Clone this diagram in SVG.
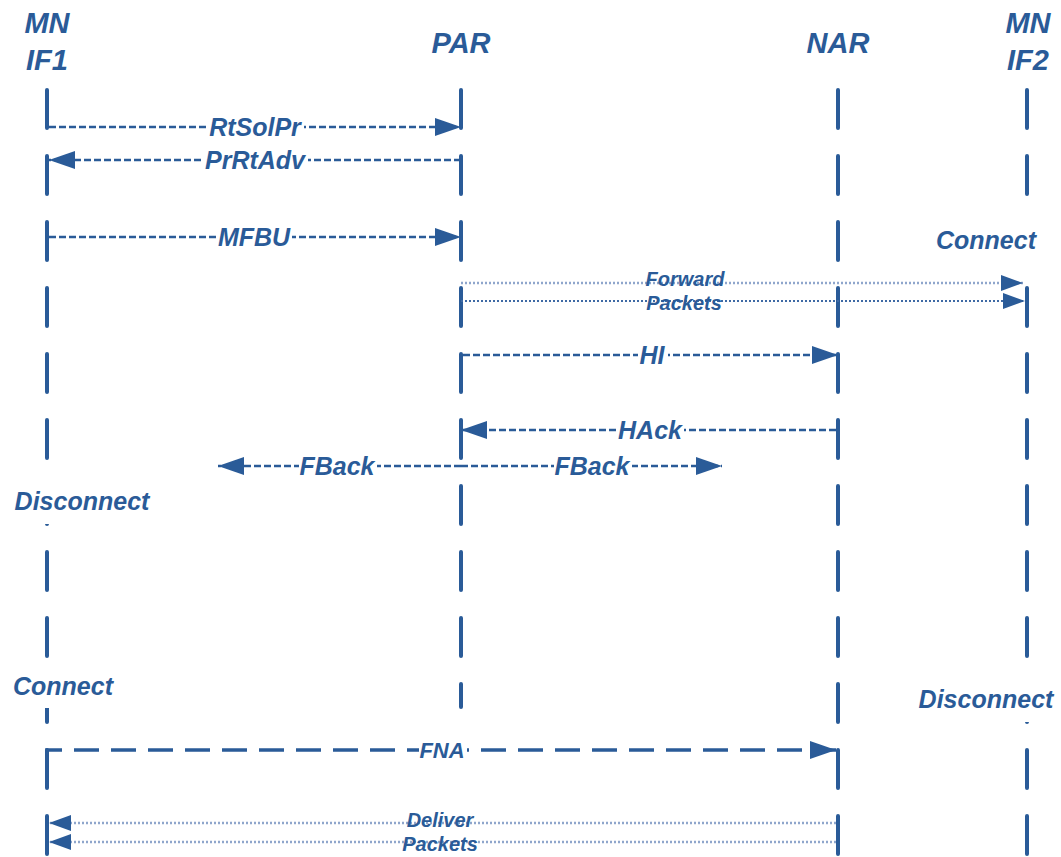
<svg xmlns="http://www.w3.org/2000/svg" width="1061" height="857" viewBox="0 0 1061 857">
<style>
.hdr{font-family:"Liberation Sans",Arial,sans-serif;font-weight:bold;font-style:italic;font-size:29px;fill:#2A5B98;text-anchor:middle}
.lbl{font-family:"Liberation Sans",Arial,sans-serif;font-weight:bold;font-style:italic;font-size:25px;fill:#2A5B98;text-anchor:middle}
.sml{font-family:"Liberation Sans",Arial,sans-serif;font-weight:bold;font-style:italic;font-size:20px;fill:#2A5B98;text-anchor:middle}
.life{stroke:#2A5B98;stroke-width:4;stroke-dasharray:38 28;stroke-linecap:round;fill:none}
.msg{stroke:#2A5B98;stroke-width:2.5;stroke-dasharray:7 3;fill:none}
.dot{stroke:#3F6AA5;stroke-width:2;stroke-dasharray:2 2;fill:none}
.dotl{stroke:#8FA6CC;stroke-width:2.5;stroke-dasharray:2 2;fill:none}
.fna{stroke:#2A5B98;stroke-width:3.5;stroke-dasharray:25 12;fill:none}
.bg{fill:#ffffff}
</style>
<defs>
<marker id="ah" markerUnits="userSpaceOnUse" markerWidth="28" markerHeight="20" refX="26" refY="9" orient="auto">
<path d="M0,0 L26,9 L0,18 z" fill="#2A5B98"/>
</marker>
<marker id="ahs" markerUnits="userSpaceOnUse" markerWidth="24" markerHeight="18" refX="22" refY="8" orient="auto">
<path d="M0,0 L22,8 L0,16 z" fill="#2A5B98"/>
</marker>
</defs>

<g id="mnif1">
<text class="hdr" x="47" y="33">MN</text>
<text class="hdr" x="47" y="70">IF1</text>
<line class="life" x1="47" y1="90" x2="47" y2="857"/>
</g>
<g id="par">
<text class="hdr" x="461" y="53">PAR</text>
<line class="life" x1="461" y1="90" x2="461" y2="707"/>
</g>
<g id="nar">
<text class="hdr" x="838" y="53">NAR</text>
<line class="life" x1="838" y1="90" x2="838" y2="857"/>
</g>
<g id="mnif2">
<text class="hdr" x="1028" y="33">MN</text>
<text class="hdr" x="1028" y="70">IF2</text>
<line class="life" x1="1027" y1="90" x2="1027" y2="857"/>
</g>

<g id="connectors">
<line class="msg" x1="49" y1="127" x2="461" y2="127" marker-end="url(#ah)"/>
<line class="msg" x1="461" y1="160" x2="49" y2="160" marker-end="url(#ah)"/>
<line class="msg" x1="49" y1="237" x2="461" y2="237" marker-end="url(#ah)"/>
<line class="dotl" x1="461" y1="283" x2="1023" y2="283" marker-end="url(#ahs)"/>
<line class="dot" x1="461" y1="301" x2="1025" y2="301" marker-end="url(#ahs)"/>
<line class="msg" x1="463" y1="355" x2="838" y2="355" marker-end="url(#ah)"/>
<line class="msg" x1="836" y1="430" x2="461" y2="430" marker-end="url(#ah)"/>
<line class="msg" x1="461" y1="466" x2="218" y2="466" marker-end="url(#ah)"/>
<line class="msg" x1="461" y1="466" x2="722" y2="466" marker-end="url(#ah)"/>
<polyline class="fna" points="47,760 47,750 836,750" marker-end="url(#ah)"/>
<line class="dotl" x1="836" y1="823" x2="49" y2="823" marker-end="url(#ahs)"/>
<line class="dotl" x1="836" y1="842" x2="49" y2="842" marker-end="url(#ahs)"/>
</g>

<g id="labels">
<rect class="bg" x="208" y="117" width="96" height="20"/>
<text class="lbl" x="255" y="136">RtSolPr</text>
<rect class="bg" x="204" y="150" width="104" height="20"/>
<text class="lbl" x="255" y="169">PrRtAdv</text>
<rect class="bg" x="218" y="227" width="74" height="20"/>
<text class="lbl" x="254" y="246">MFBU</text>
<rect class="bg" x="932" y="218" width="110" height="46"/>
<text class="lbl" x="986" y="249">Connect</text>
<text class="sml" x="685" y="286">Forward</text>
<text class="sml" x="684" y="310">Packets</text>
<rect class="bg" x="638" y="345" width="30" height="20"/>
<text class="lbl" x="652" y="364">HI</text>
<rect class="bg" x="618" y="420" width="66" height="20"/>
<text class="lbl" x="650" y="439">HAck</text>
<rect class="bg" x="299" y="456" width="78" height="20"/>
<text class="lbl" x="337" y="475">FBack</text>
<rect class="bg" x="554" y="456" width="78" height="20"/>
<text class="lbl" x="592" y="475">FBack</text>
<rect class="bg" x="8" y="482" width="150" height="42"/>
<text class="lbl" x="82" y="510">Disconnect</text>
<rect class="bg" x="8" y="670" width="112" height="38"/>
<text class="lbl" x="63" y="695">Connect</text>
<rect class="bg" x="912" y="680" width="149" height="42"/>
<text class="lbl" x="986" y="708">Disconnect</text>
<rect class="bg" x="419" y="740" width="48" height="20"/>
<text class="sml" x="442" y="758" style="font-size:22px">FNA</text>
<text class="sml" x="440" y="827">Deliver</text>
<text class="sml" x="440" y="851">Packets</text>
</g>
</svg>
